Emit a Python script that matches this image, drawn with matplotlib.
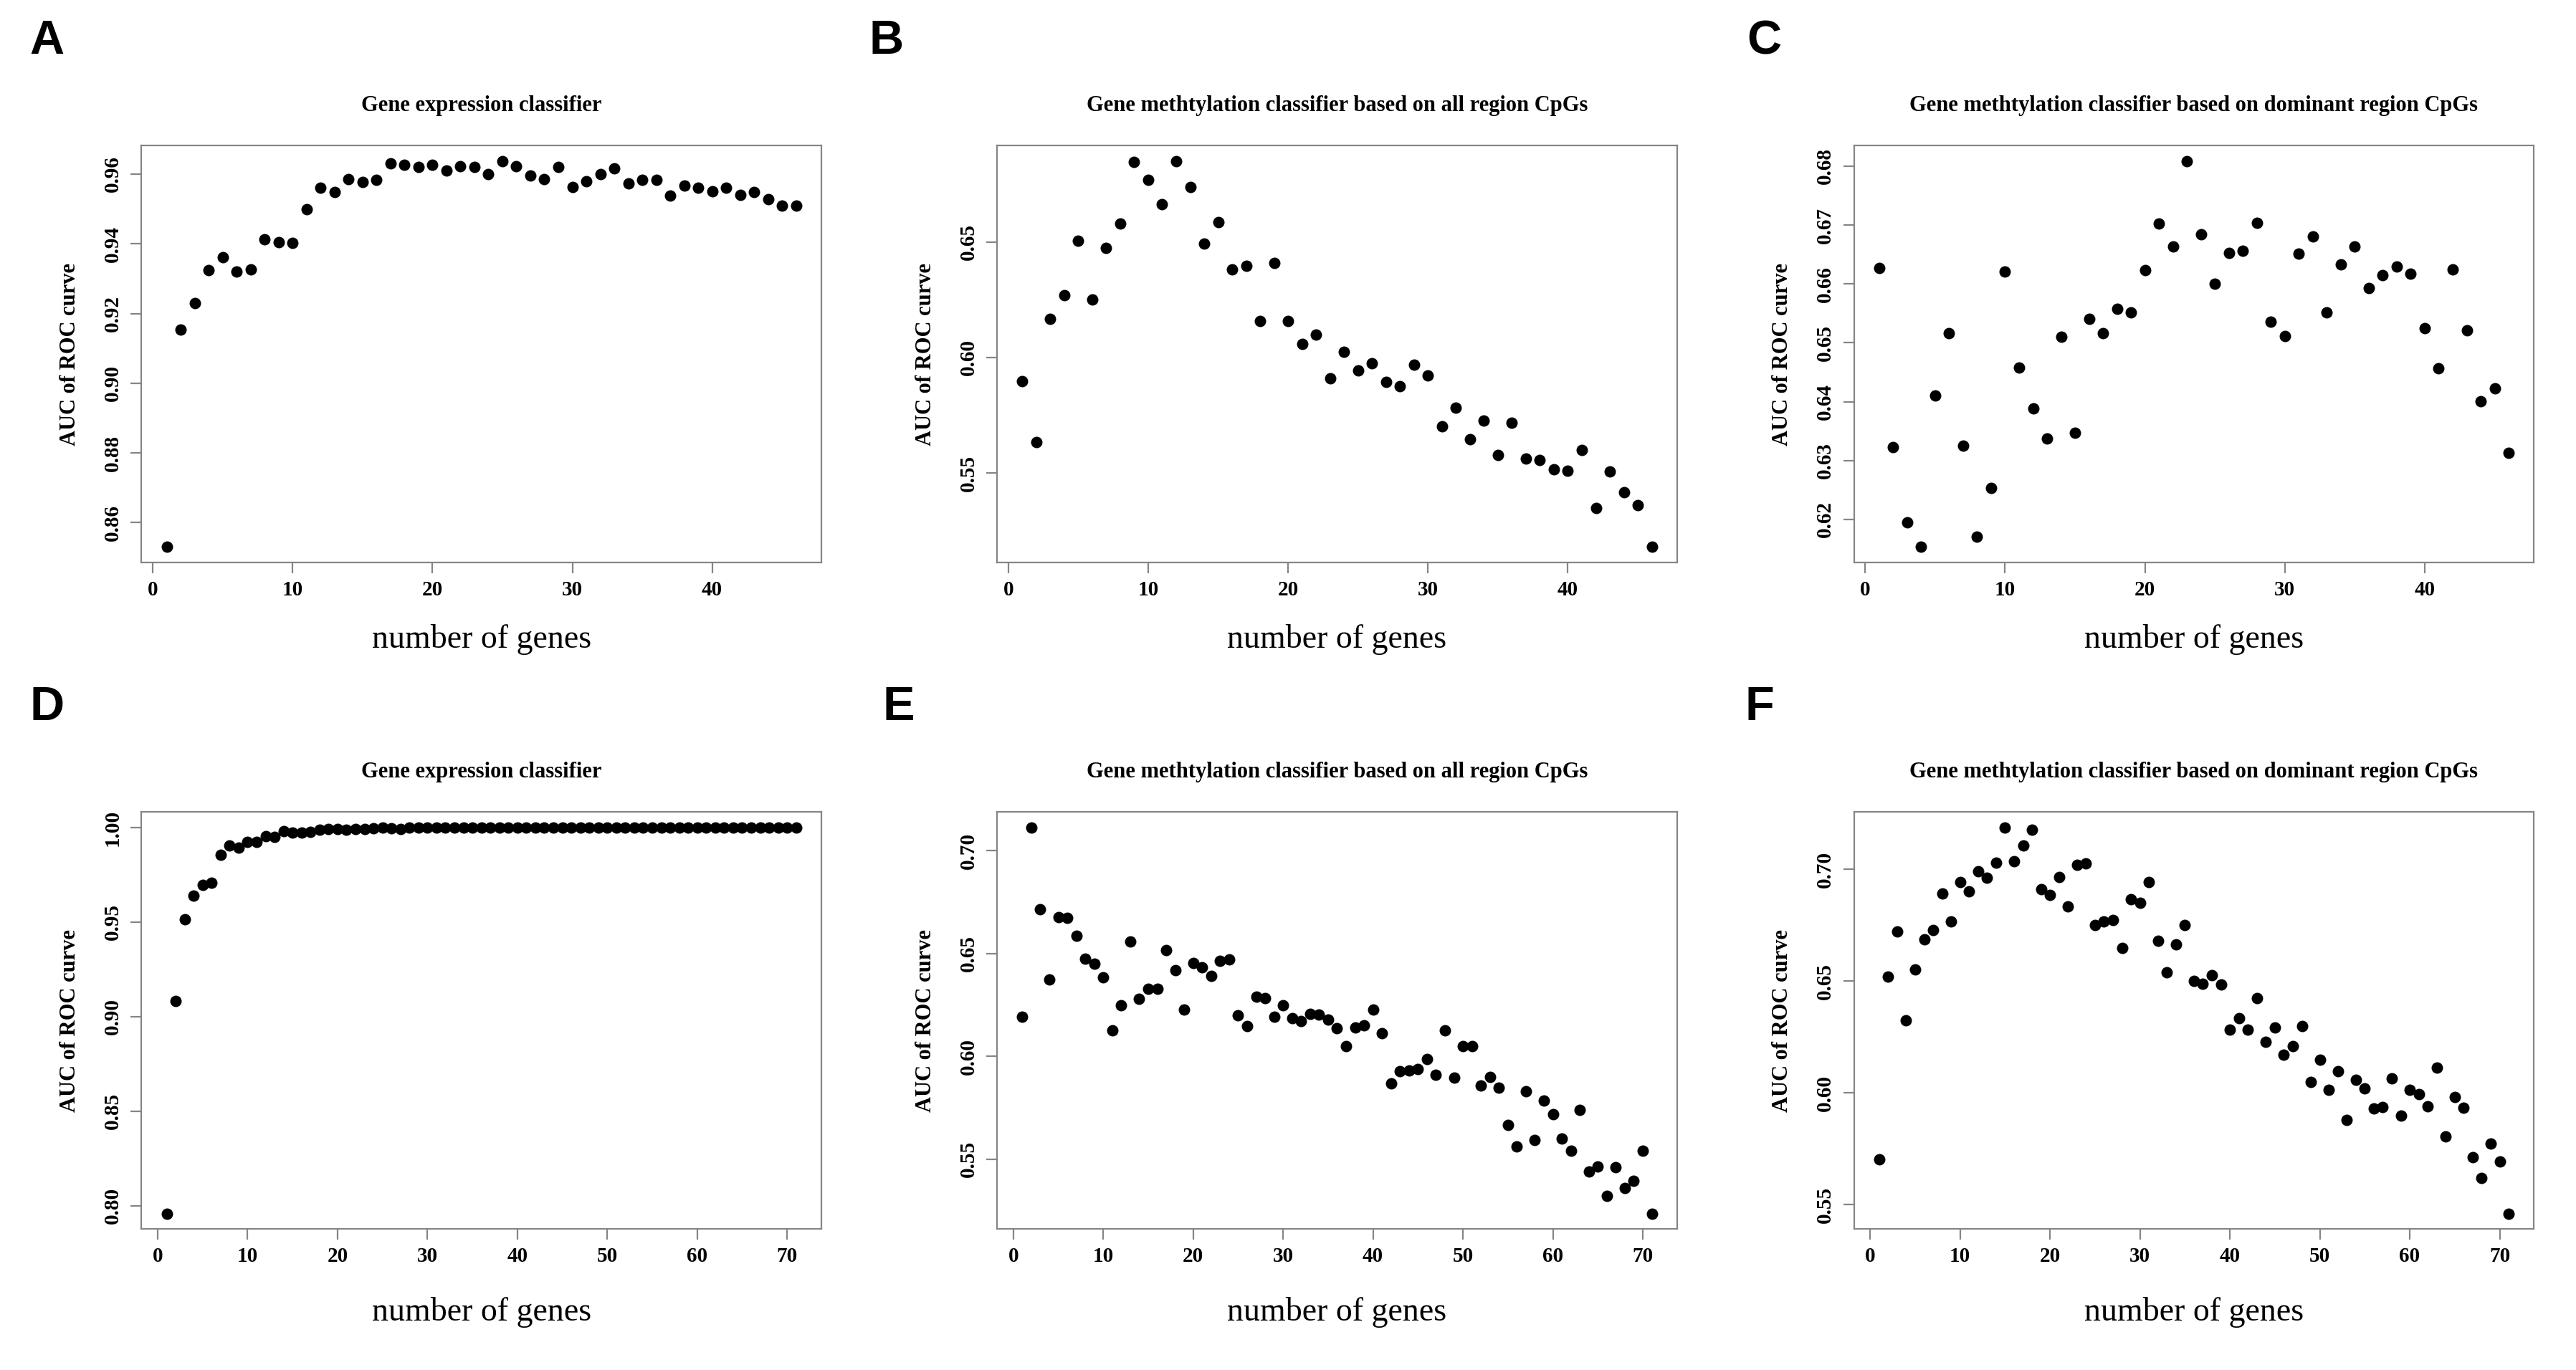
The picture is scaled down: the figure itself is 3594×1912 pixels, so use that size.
import matplotlib
matplotlib.use("Agg")
import matplotlib.pyplot as plt
from matplotlib.ticker import FormatStrFormatter

# ---------------- data ----------------
x46 = list(range(1, 47))
x71 = list(range(1, 72))

auc_A = [0.853, 0.9154, 0.923, 0.9324, 0.9361, 0.932, 0.9326, 0.9413, 0.9405, 0.9402,
         0.950, 0.956, 0.9548, 0.9585, 0.9578, 0.9583, 0.963, 0.9626, 0.9621, 0.9626,
         0.961, 0.9623, 0.9621, 0.960, 0.9638, 0.9623, 0.9595, 0.9586, 0.9621, 0.9564,
         0.958, 0.960, 0.9616, 0.9574, 0.9583, 0.9583, 0.9538, 0.9568, 0.9561, 0.9551,
         0.9561, 0.954, 0.9548, 0.9529, 0.951, 0.951]

auc_B = [0.5898, 0.5634, 0.6166, 0.627, 0.6504, 0.6251, 0.6474, 0.6579, 0.6847, 0.6768,
         0.6664, 0.6851, 0.6738, 0.6492, 0.6587, 0.6381, 0.6398, 0.6158, 0.6408, 0.6158,
         0.6058, 0.610, 0.5908, 0.6023, 0.5943, 0.5975, 0.5894, 0.5875, 0.597, 0.5921,
         0.5702, 0.5781, 0.5647, 0.5728, 0.5579, 0.5717, 0.5562, 0.5555, 0.5517, 0.5508,
         0.560, 0.5347, 0.5506, 0.5417, 0.536, 0.5179]

auc_C = [0.6627, 0.6323, 0.6195, 0.6153, 0.641, 0.6516, 0.6325, 0.617, 0.6253, 0.6621,
         0.6458, 0.6389, 0.6337, 0.651, 0.6347, 0.6541, 0.6516, 0.6558, 0.6552, 0.6623,
         0.6702, 0.6664, 0.6809, 0.6684, 0.660, 0.6653, 0.6656, 0.6704, 0.6536, 0.6512,
         0.6652, 0.6681, 0.6551, 0.6633, 0.6664, 0.6593, 0.6615, 0.663, 0.6617, 0.6525,
         0.6457, 0.6625, 0.6521, 0.6401, 0.6423, 0.6313]

auc_D = [0.7958, 0.9082, 0.9513, 0.9641, 0.9695, 0.9709, 0.9855, 0.9904, 0.9895, 0.9925,
         0.9923, 0.9953, 0.9949, 0.9979, 0.9972, 0.9974, 0.9976, 0.9990, 0.9992, 0.9994,
         0.9990, 0.9994, 0.9992, 0.9996, 0.9998, 0.9997, 0.9993, 0.9998, 0.9999, 1.0,
         1.0, 1.0, 1.0, 1.0, 1.0, 1.0, 1.0, 1.0, 1.0, 1.0,
         1.0, 1.0, 1.0, 1.0, 1.0, 1.0, 1.0, 1.0, 1.0, 1.0,
         1.0, 1.0, 1.0, 1.0, 1.0, 1.0, 1.0, 1.0, 1.0, 1.0,
         1.0, 1.0, 1.0, 1.0, 1.0, 1.0, 1.0, 1.0, 1.0, 1.0, 1.0]

auc_E = [0.6191, 0.7112, 0.6715, 0.6373, 0.6676, 0.6674, 0.6584, 0.6474, 0.6451, 0.6384,
         0.6124, 0.6247, 0.6558, 0.6279, 0.6326, 0.6326, 0.6515, 0.6418, 0.6225, 0.6453,
         0.6433, 0.6391, 0.6464, 0.6472, 0.620, 0.6146, 0.6288, 0.6283, 0.6191, 0.6247,
         0.6185, 0.617, 0.6206, 0.6204, 0.6178, 0.6137, 0.6049, 0.6139, 0.615, 0.6227,
         0.6112, 0.5867, 0.5927, 0.5931, 0.5936, 0.5985, 0.5908, 0.6124, 0.5897, 0.6049,
         0.6049, 0.5858, 0.5899, 0.5848, 0.5665, 0.556, 0.583, 0.5592, 0.5785, 0.5717,
         0.5599, 0.5539, 0.574, 0.5438, 0.5464, 0.532, 0.5461, 0.5358, 0.5395, 0.5539,
         0.5234]

auc_F = [0.5703, 0.652, 0.672, 0.6323, 0.655, 0.6686, 0.6728, 0.6891, 0.6765, 0.6941,
         0.6901, 0.699, 0.6963, 0.703, 0.7186, 0.7034, 0.7105, 0.7176, 0.6911, 0.6886,
         0.6966, 0.6834, 0.702, 0.7026, 0.6751, 0.6767, 0.6771, 0.6649, 0.6864, 0.6848,
         0.6941, 0.668, 0.6538, 0.6663, 0.6751, 0.6499, 0.6487, 0.6526, 0.6485, 0.6282,
         0.6333, 0.6282, 0.6424, 0.6228, 0.6291, 0.6171, 0.6209, 0.6297, 0.6049, 0.6149,
         0.6013, 0.6096, 0.5879, 0.6057, 0.6019, 0.593, 0.5936, 0.6063, 0.5897, 0.6013,
         0.5995, 0.594, 0.6112, 0.5804, 0.598, 0.5934, 0.5711, 0.5619, 0.5772, 0.5692,
         0.5459]

titles = ["Gene expression classifier",
          "Gene methtylation classifier based on all region CpGs",
          "Gene methtylation classifier based on dominant region CpGs"]
letters = ["A", "B", "C", "D", "E", "F"]
xticks_top = [0, 10, 20, 30, 40]
xticks_bot = [0, 10, 20, 30, 40, 50, 60, 70]
yticks_A = [0.86, 0.88, 0.90, 0.92, 0.94, 0.96]
yticks_B = [0.55, 0.60, 0.65]
yticks_C = [0.62, 0.63, 0.64, 0.65, 0.66, 0.67, 0.68]
yticks_D = [0.80, 0.85, 0.90, 0.95, 1.00]
yticks_E = [0.55, 0.60, 0.65, 0.70]
yticks_F = [0.55, 0.60, 0.65, 0.70]

# ---------------- layout ----------------
W, H = 3594, 1912
fig = plt.figure(figsize=(W / 100, H / 100), dpi=100)
fig.patch.set_facecolor("white")

col_left = [197.4, 1391.2, 2586.7]
row_top = [203.0, 1133.4]
ax_w, ax_h = 948.5, 582.0
letter_pos = [(65, 58), (1237, 58), (2461, 58), (66, 988), (1254, 988), (2455, 988)]
xlabel_off = [107, 116]

serif = ["Liberation Serif", "DejaVu Serif"]
sans = ["Liberation Sans", "DejaVu Sans"]
gray = "#858585"

panels = [
    (x46, auc_A, xticks_top, yticks_A, titles[0]),
    (x46, auc_B, xticks_top, yticks_B, titles[1]),
    (x46, auc_C, xticks_top, yticks_C, titles[2]),
    (x71, auc_D, xticks_bot, yticks_D, titles[0]),
    (x71, auc_E, xticks_bot, yticks_E, titles[1]),
    (x71, auc_F, xticks_bot, yticks_F, titles[2]),
]

for i, (xs, ys, xt, yt, title) in enumerate(panels):
    r, c = divmod(i, 3)
    left = col_left[c]
    top = row_top[r]
    ax = fig.add_axes([left / W, (H - top - ax_h) / H, ax_w / W, ax_h / H])
    ax.plot(xs, ys, "o", color="black", markersize=11.5, markeredgewidth=0)
    ax.margins(x=0.04, y=0.04)
    ax.set_xticks(xt)
    ax.set_yticks(yt)
    ax.yaxis.set_major_formatter(FormatStrFormatter("%.2f"))
    for s in ax.spines.values():
        s.set_color(gray)
        s.set_linewidth(1.6)
    ax.tick_params(axis="both", direction="out", length=11, width=1.6, color=gray,
                   labelsize=21, labelcolor="black")
    ax.tick_params(axis="x", pad=7)
    ax.tick_params(axis="y", pad=8)
    for lab in ax.get_xticklabels() + ax.get_yticklabels():
        lab.set_fontfamily(serif)
        lab.set_fontweight("bold")
    for lab in ax.get_yticklabels():
        lab.set_rotation(90)
        lab.set_va("center")

    ax.text(0.5, 1 + 56 / ax_h, title, transform=ax.transAxes, ha="center", va="center",
            fontsize=22, fontweight="bold", family=serif)
    ax.text(0.5, -xlabel_off[r] / ax_h, "number of genes", transform=ax.transAxes,
            ha="center", va="center", fontsize=33, family=serif)
    ax.text(-100 / ax_w, 0.5, "AUC of ROC curve", transform=ax.transAxes, rotation=90,
            ha="center", va="center", fontsize=22, fontweight="bold", family=serif)

    lx, ly = letter_pos[i]
    fig.text(lx / W, 1 - ly / H, letters[i], ha="center", va="center", fontsize=48,
             fontweight="bold", family=sans)

fig.savefig("out.png", dpi=100, facecolor="white")
